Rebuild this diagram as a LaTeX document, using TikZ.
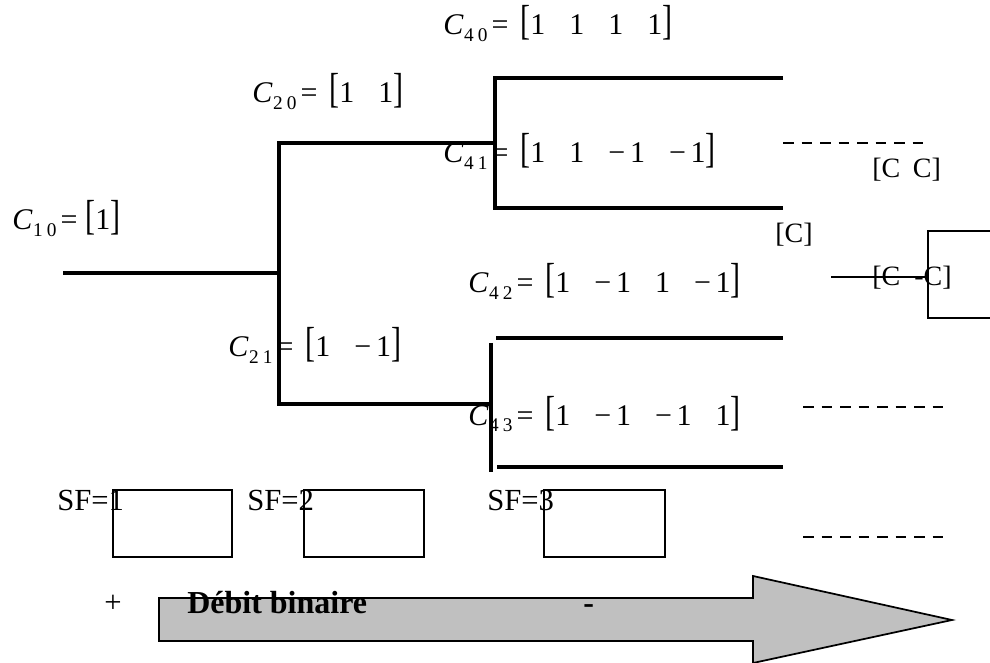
\documentclass[tikz,border=0pt]{standalone}
\usepackage{graphicx}
\usepackage{fontspec}
\setmainfont{Liberation Serif}

% tall square brackets for the code vectors
\newcommand{\lbr}{\scalebox{1}[1.4]{[}}
\newcommand{\rbr}{\scalebox{1}[1.4]{]}}
% gap between vector entries and a spaced minus sign
\newcommand{\gp}{\hspace{0.8em}}
\newcommand{\mn}{−\kern3.5pt}
% subscript pair a b
\newcommand{\sbs}[2]{\raisebox{-5pt}{\fontsize{14.5}{15}\selectfont #1\kern3pt#2}}
% C_{ab} = [ ... ]
\newcommand{\ccode}[3]{\textit{C}\kern0.5pt\sbs{#1}{#2}\kern3pt=\kern9pt\lbr#3\rbr}

\tikzset{
  tree/.style={line width=3.4pt},
  thinline/.style={line width=1.3pt},
  dashline/.style={line width=2pt, dash pattern=on 8pt off 5.9pt},
  codelbl/.style={inner sep=0pt, anchor=base west, font=\fontsize{22.5}{27}\selectfont},
  smalllbl/.style={inner sep=0pt, anchor=base west, font=\fontsize{21}{25}\selectfont},
  sflbl/.style={inner sep=0pt, anchor=base west, font=\fontsize{23}{27}\selectfont},
  sfbox/.style={thinline, draw},
}

\begin{document}
\begin{tikzpicture}[x=0.75pt, y=-0.75pt]
  \clip (0,0) rectangle (990,663);
  \fill[white] (0,0) rectangle (990,663);

  % ---- code tree ----
  \coordinate (root) at (63,273);
  \coordinate (n1) at (279,273);
  \coordinate (n1t) at (279,143);
  \coordinate (n1b) at (279,404);
  \coordinate (n2t) at (495,143);
  \coordinate (n2b) at (493,404);
  \coordinate (a0) at (495,78);
  \coordinate (a1) at (495,208);
  \coordinate (e40) at (783,78);
  \coordinate (e41) at (783,208);
  \coordinate (b0) at (491,343);
  \coordinate (b1) at (491,472);
  \coordinate (b2) at (496,338);
  \coordinate (b3) at (497,467);
  \coordinate (e42) at (783,338);
  \coordinate (e43) at (783,467);

  \draw[tree] (root) -- (n1);
  \draw[tree] (n2t) -- (n1t) -- (n1b) -- (n2b);
  \draw[tree] (e40) -- (a0) -- (a1) -- (e41);
  \draw[tree] (b0) -- (b1);
  \draw[tree] (b2) -- (e42);
  \draw[tree] (b3) -- (e43);

  % ---- code labels ----
  \node[codelbl] (c40) at (443,35) {\ccode{4}{0}{1\gp 1\gp 1\gp 1}};
  \node[codelbl] (c20) at (252,103) {\ccode{2}{0}{1\gp 1}};
  \node[codelbl] (c41) at (443,163) {\ccode{4}{1}{1\gp 1\gp \mn1\gp \mn1}};
  \node[codelbl] (c10) at (12,230) {\textit{C}\kern0.5pt\sbs{1}{0}\kern3pt=\kern6pt\lbr1\rbr};
  \node[codelbl] (c42) at (468,293) {\ccode{4}{2}{1\gp \mn1\gp 1\gp \mn1}};
  \node[codelbl] (c21) at (228,357) {\ccode{2}{1}{1\gp \mn1}};
  \node[codelbl] (c43) at (468,425) {\ccode{4}{3}{1\gp \mn1\gp \mn1\gp 1}};

  % ---- continuation on the right ----
  \coordinate (d1a) at (783,143);
  \coordinate (d1b) at (925,143);
  \coordinate (d2a) at (803,407);
  \coordinate (d2b) at (945,407);
  \coordinate (d3a) at (803,537);
  \coordinate (d3b) at (945,537);
  \draw[dashline] (d1a) -- (d1b);
  \draw[dashline] (d2a) -- (d2b);
  \draw[dashline] (d3a) -- (d3b);

  \node[smalllbl] (cc) at (872,178) {[C\hspace{0.45em}C]};
  \node[smalllbl] (c) at (775,243) {[C]};
  \node[draw, thinline, minimum width=73*0.75pt, minimum height=87*0.75pt, inner sep=0pt, anchor=north west] (gbox) at (927,230) {};
  \coordinate (gin) at (831,277);
  \draw[thinline] (gin) -- (gbox.west |- gin);
  \node[smalllbl] (cmc) at (872,286) {[C\hspace{0.5em}-C]};

  % ---- spreading factor boxes ----
  \node[sfbox, minimum width=119*0.75pt, minimum height=67*0.75pt, inner sep=0pt, anchor=north west] (box1) at (112,489) {};
  \node[sfbox, minimum width=120*0.75pt, minimum height=67*0.75pt, inner sep=0pt, anchor=north west] (box2) at (303,489) {};
  \node[sfbox, minimum width=121*0.75pt, minimum height=67*0.75pt, inner sep=0pt, anchor=north west] (box3) at (543,489) {};
  \node[sflbl] (sf1) at (57,510) {SF=1};
  \node[sflbl] (sf2) at (247,510) {SF=2};
  \node[sflbl] (sf3) at (487,510) {SF=3};

  % ---- bit-rate arrow ----
  \draw[thinline, fill={rgb,255:red,192;green,192;blue,192}]
    (159,598) -- (753,598) -- (753,576) -- (952,620) -- (753,663) -- (753,641) -- (159,641) -- cycle;
  \node[sflbl] (plus) at (104,612) {+};
  \node[inner sep=0pt, anchor=base west, font=\fontsize{24}{28}\selectfont\bfseries] (rate) at (187,613) {Débit binaire};
  \node[inner sep=0pt, anchor=base west, font=\fontsize{24}{28}\selectfont\bfseries] (minus) at (583,613) {-};
\end{tikzpicture}
\end{document}
